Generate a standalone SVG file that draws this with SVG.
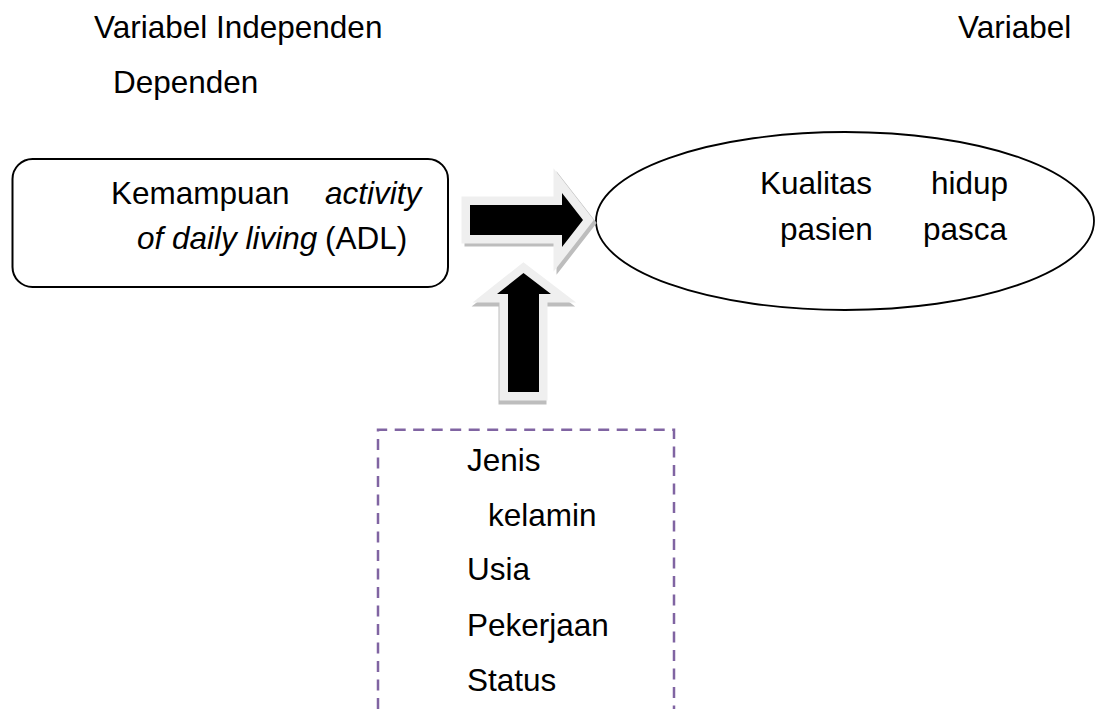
<svg xmlns="http://www.w3.org/2000/svg" width="1095" height="709" viewBox="0 0 1095 709">
<style>
.t{font-family:"Liberation Sans",Arial,sans-serif;font-size:31.5px;fill:#000}
.i{font-style:italic}
.shadow{fill:#bdbdbd;stroke:#bdbdbd;stroke-width:17;stroke-linejoin:miter;stroke-miterlimit:10}
.arrow{fill:#000;stroke:#efefef;stroke-width:17;stroke-linejoin:miter;stroke-miterlimit:10;paint-order:stroke}
</style>
<rect width="1095" height="709" fill="#fff"/>
<g id="labels">
<text class="t" x="94" y="38">Variabel Independen</text>
<text class="t" x="958" y="38">Variabel</text>
<text class="t" x="113" y="93">Dependen</text>
</g>
<g id="node-adl">
<rect x="12.5" y="159" width="435.5" height="128" rx="20" ry="20" fill="#fff" stroke="#000" stroke-width="2"/>
<text class="t" x="111" y="204">Kemampuan</text>
<text class="t i" x="325" y="204">activity</text>
<text class="t" y="249"><tspan class="i" x="137">of daily living</tspan><tspan x="325">(ADL)</tspan></text>
</g>
<g id="node-kualitas">
<ellipse cx="845" cy="221" rx="249" ry="89" fill="#fff" stroke="#000" stroke-width="1.8"/>
<text class="t" x="760" y="194">Kualitas</text>
<text class="t" x="931" y="194">hidup</text>
<text class="t" x="780" y="240">pasien</text>
<text class="t" x="923" y="240">pasca</text>
</g>
<g id="node-confounders">
<path d="M378 709 V429.7 H674 V709" fill="none" stroke="#8064a2" stroke-width="2.5" stroke-dasharray="11 7.5"/>
<text class="t" x="467" y="471">Jenis</text>
<text class="t" x="488" y="526">kelamin</text>
<text class="t" x="467" y="580">Usia</text>
<text class="t" x="467" y="636">Pekerjaan</text>
<text class="t" x="467" y="691">Status</text>
</g>
<g id="connectors">
<polygon class="shadow" transform="translate(-1,4)" points="508,392 508,294 497,294 523.5,273 551,294 539,294 539,392"/>
<polygon class="arrow" points="508,392 508,294 497,294 523.5,273 551,294 539,294 539,392"/>
<polygon class="shadow" transform="translate(3,3)" points="470,205 562,205 562,193 583,220 562,247 562,235 470,235"/>
<polygon class="arrow" points="470,205 562,205 562,193 583,220 562,247 562,235 470,235"/>
</g>
</svg>
